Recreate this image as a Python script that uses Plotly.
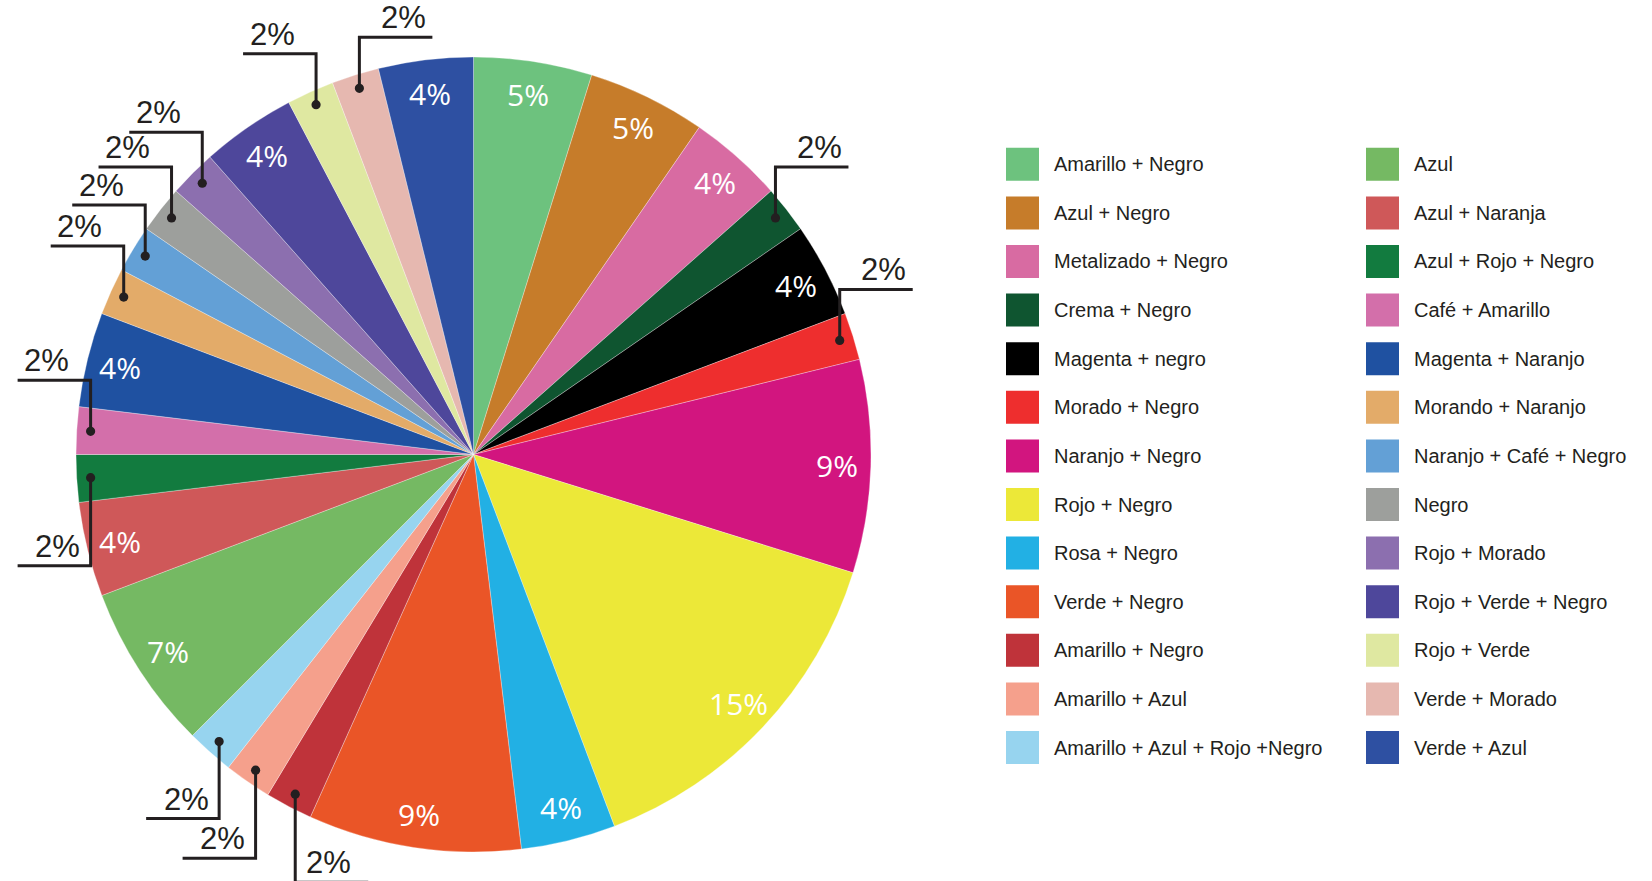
import math
import plotly.graph_objects as go

# Combinaciones de colores y su porcentaje
labels = [
    "Amarillo + Negro", "Azul + Negro", "Metalizado + Negro", "Crema + Negro",
    "Magenta + negro", "Morado + Negro", "Naranjo + Negro", "Rojo + Negro",
    "Rosa + Negro", "Verde + Negro", "Amarillo + Negro", "Amarillo + Azul",
    "Amarillo + Azul + Rojo +Negro",
    "Azul", "Azul + Naranja", "Azul + Rojo + Negro", "Café + Amarillo",
    "Magenta + Naranjo", "Morando + Naranjo", "Naranjo + Café + Negro", "Negro",
    "Rojo + Morado", "Rojo + Verde + Negro", "Rojo + Verde", "Verde + Morado",
    "Verde + Azul",
]
values = [5, 5, 4, 2, 4, 2, 9, 15, 4, 9, 2, 2, 2,
          7, 4, 2, 2, 4, 2, 2, 2, 2, 4, 2, 2, 4]
colors = [
    "#6DC27E", "#C67C2A", "#D86BA2", "#0F5530", "#000000", "#EE2E2E",
    "#D2157F", "#ECE838", "#22B0E4", "#EA5527", "#BF333A", "#F5A08C",
    "#97D4EF",
    "#75B963", "#CF5859", "#127B3F", "#D36FAA", "#1F51A1", "#E3AB69",
    "#63A0D6", "#9D9F9C", "#8C6FAF", "#4E479B", "#DFE8A1", "#E6B8B0",
    "#2E50A2",
]

# Layout geometry (pixels)
W, H = 1652, 881
CX, CY, R = 473.5, 454.5, 397.5
INK = "#231F20"


def px(x):
    return x / W


def py(y):
    return 1 - y / H


fig = go.Figure(
    go.Pie(
        labels=[str(i) for i in range(len(values))],
        values=values,
        hovertext=labels,
        hovertemplate="%{hovertext}<br>%{value}%<extra></extra>",
        sort=False,
        direction="clockwise",
        rotation=0,
        marker=dict(colors=colors, line=dict(width=0.5, color="rgba(255,255,255,0.6)")),
        textinfo="none",
        showlegend=False,
        domain=dict(x=[px(CX - R), px(CX + R)], y=[py(CY + R), py(CY - R)]),
    )
)

shapes = []
annotations = []

total = sum(values)
cum = 0.0
# slices whose callout runs to the right
right_callouts = {3, 5, 10, 24}
# shorter drop for a callout that would cross its neighbour's label
drop_override = {12: 77}
for i, v in enumerate(values):
    theta = 2 * math.pi * (cum + v / 2) / total
    cum += v
    s, c = math.sin(theta), math.cos(theta)
    if v > 2:
        rr = 0.915 * R
        annotations.append(dict(
            x=px(CX + rr * s), y=py(CY - rr * c), xref="paper", yref="paper",
            text=f"{v}%", showarrow=False, xanchor="center", yanchor="middle",
            font=dict(family="Open Sans", size=30, color="white"),
        ))
    else:
        rd = 0.965 * R
        dx, dy = CX + rd * s, CY - rd * c
        up = dy < CY
        ky = dy - 51 if up else dy + drop_override.get(i, 88)
        sign = 1 if i in right_callouts else -1
        ex = dx + sign * 73
        shapes.append(dict(
            type="path", xref="paper", yref="paper",
            path=f"M {px(dx)} {py(dy)} L {px(dx)} {py(ky)} L {px(ex)} {py(ky)}",
            line=dict(color=INK, width=3),
        ))
        shapes.append(dict(
            type="circle", xref="paper", yref="paper",
            x0=px(dx - 4.6), x1=px(dx + 4.6), y0=py(dy + 4.6), y1=py(dy - 4.6),
            fillcolor=INK, line=dict(width=0),
        ))
        off = 44 if up else 33
        annotations.append(dict(
            x=px(dx + sign * off), y=py(ky), xref="paper", yref="paper",
            text=f"{v}%", showarrow=False, xanchor="center", yanchor="bottom",
            font=dict(family="Liberation Sans", size=31, color=INK),
        ))

# Two-column legend
for i, (name, col) in enumerate(zip(labels, colors)):
    column, row = divmod(i, 13)
    x0 = 1006 + column * 360
    yc = 164.3 + row * 48.6
    shapes.append(dict(
        type="rect", xref="paper", yref="paper",
        x0=px(x0), x1=px(x0 + 33), y0=py(yc + 16.5), y1=py(yc - 16.5),
        fillcolor=col, line=dict(width=0),
    ))
    annotations.append(dict(
        x=px(x0 + 46), y=py(yc), xref="paper", yref="paper",
        text=name, showarrow=False, xanchor="left", yanchor="middle",
        font=dict(family="Liberation Sans", size=20, color=INK),
    ))

fig.update_layout(
    width=W, height=H,
    margin=dict(l=0, r=0, t=0, b=0),
    paper_bgcolor="white", plot_bgcolor="white",
    shapes=shapes, annotations=annotations,
)

fig.write_html("out.html")
